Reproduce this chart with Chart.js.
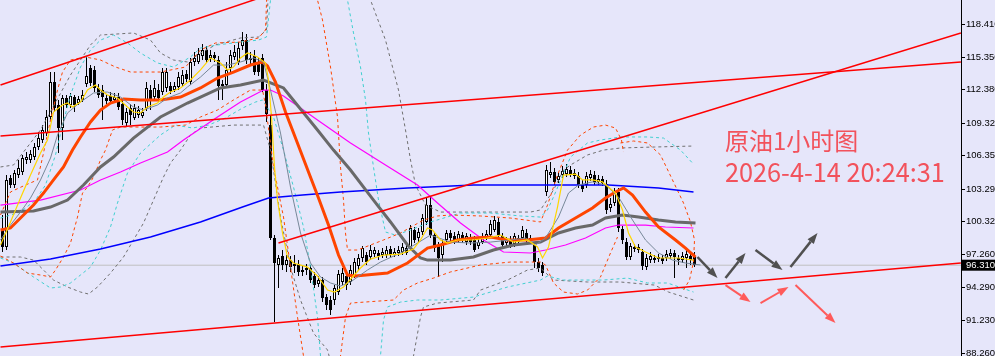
<!DOCTYPE html>
<html><head><meta charset="utf-8">
<script src="https://cdn.jsdelivr.net/npm/chart.js@4.4.1/dist/chart.umd.min.js"></script>
<style>html,body{margin:0;padding:0;background:#E6E6FA;overflow:hidden}canvas{display:block}</style>
</head><body>
<canvas id="c" width="995" height="356"></canvas>
<script>
// ---------- DATA ----------
const titleText = '原油1小时图';
const timeText = '2026-4-14 20:24:31';
const lastPrice = 96.31;
const yTicks = [88.26, 91.23, 94.29, 97.26, 100.32, 103.29, 106.35, 109.32, 112.38, 115.35, 118.41];

const opens = [99.53,97.98,104.30,103.66,104.57,104.85,105.95,105.95,106.22,107.14,107.78,108.43,109.89,113.10,110.99,108.88,111.63,110.99,111.72,111.18,111.45,112.91,114.38,114.20,112.55,112.36,111.63,111.81,111.45,111.72,111.08,109.34,110.72,109.80,110.07,109.98,110.72,112.36,111.72,112.36,112.18,112.55,112.73,112.36,112.64,112.91,113.83,113.10,114.93,114.93,115.48,116.03,115.30,115.57,115.11,112.73,112.82,114.38,115.39,114.93,116.39,116.94,115.11,115.48,114.74,115.30,112.36,109.15,98.80,96.32,97.15,96.32,96.78,96.23,96.41,95.69,95.87,96.05,95.32,94.58,94.95,93.39,93.12,93.12,93.85,94.77,95.32,94.77,95.41,96.23,96.97,97.24,97.06,97.33,97.43,97.24,97.24,97.79,97.24,97.43,97.52,97.89,97.98,99.53,98.80,99.35,100.27,101.82,99.07,98.07,97.24,98.62,99.26,98.98,98.62,99.07,98.43,98.89,98.62,98.07,98.43,98.89,99.07,99.53,100.27,98.98,98.34,98.62,98.25,98.80,98.80,99.26,98.62,98.16,96.60,96.32,103.02,104.57,104.85,104.12,104.57,104.66,105.03,104.76,104.48,103.66,103.66,104.30,104.57,103.94,104.21,103.75,101.55,102.01,103.02,99.63,98.43,97.06,97.79,97.98,97.52,96.14,96.78,96.97,96.87,96.97,96.97,97.15,97.43,96.78,96.78,96.97,97.15,97.06];
const highs = [100.91,104.57,104.57,105.03,105.95,106.40,106.68,106.86,107.51,108.52,109.15,110.53,114.02,114.02,111.45,111.90,111.90,112.09,111.90,111.81,112.36,115.39,114.65,114.56,112.91,112.82,111.90,112.18,112.09,112.09,111.45,110.72,111.08,111.08,110.90,110.72,113.10,112.82,113.28,112.91,114.38,114.38,113.10,113.10,114.02,114.20,114.20,115.30,115.85,116.21,116.57,116.39,116.03,115.85,115.48,113.28,114.93,116.03,116.48,116.76,117.68,117.49,115.85,116.03,115.30,115.66,112.91,110.07,99.07,97.24,97.70,97.24,97.15,97.24,96.78,96.23,96.41,96.32,95.69,95.32,95.23,93.67,93.48,94.49,95.87,96.05,95.69,96.32,96.97,97.33,98.07,97.52,98.16,97.98,97.70,97.89,98.07,98.07,97.89,98.07,98.34,98.25,99.99,99.81,99.72,101.00,102.47,102.65,99.35,98.43,98.62,99.53,99.53,99.35,99.44,99.35,99.26,99.17,98.98,98.71,99.26,99.53,100.45,100.82,100.63,99.26,98.89,98.98,99.26,99.07,99.90,99.63,99.07,98.43,96.97,96.60,105.49,105.76,105.22,104.85,105.40,105.58,105.40,105.12,104.85,104.12,104.85,105.03,104.94,104.57,104.48,104.12,102.47,103.39,103.39,99.90,98.80,98.34,98.25,98.25,97.79,97.33,97.52,97.24,97.33,97.24,97.70,97.79,97.70,97.24,97.52,97.70,97.52,97.52];
const lows = [97.52,97.70,103.39,103.39,104.30,104.57,105.58,105.67,105.95,106.86,107.51,108.15,109.61,110.35,106.59,107.78,110.72,110.72,110.35,110.99,111.27,112.64,112.73,112.18,111.63,109.61,111.08,111.08,111.18,110.53,109.15,108.97,109.15,109.61,109.80,109.80,110.44,110.53,111.45,111.27,111.90,112.18,112.00,112.18,112.36,112.73,113.10,112.82,114.56,114.74,115.11,114.84,114.93,114.93,111.45,111.45,112.55,114.02,115.11,114.65,116.03,114.74,114.56,113.74,113.65,112.18,109.43,98.62,91.11,94.22,95.87,95.69,95.69,95.60,95.32,95.32,95.41,94.68,94.22,94.31,92.94,92.20,91.74,92.66,93.58,94.49,94.03,94.49,95.14,95.87,96.60,96.32,96.78,97.06,96.78,96.97,96.97,96.97,97.06,97.15,97.24,97.24,97.70,98.34,98.43,99.07,99.99,98.80,97.52,95.23,96.60,98.25,98.53,98.25,98.34,98.34,98.16,98.16,97.52,97.79,98.25,98.62,98.80,99.35,98.80,97.89,98.07,97.89,97.98,98.16,98.62,98.34,98.25,96.05,95.69,95.32,102.65,104.30,103.66,103.85,104.30,104.39,104.39,104.21,103.39,103.02,103.39,104.03,103.66,103.66,103.57,101.00,101.18,101.73,99.35,98.25,96.78,96.78,97.52,97.43,95.87,95.87,96.51,96.51,96.60,96.41,96.69,96.87,95.14,96.32,96.51,96.05,96.32,96.14];
const closes = [97.98,104.12,103.66,104.76,105.22,106.13,106.22,106.49,107.14,107.97,108.70,109.89,113.10,110.72,108.88,111.63,110.99,111.81,110.99,111.54,111.90,113.65,113.01,112.55,111.90,111.72,111.36,111.36,111.72,110.81,109.61,110.35,110.07,110.72,110.53,110.35,112.55,111.45,112.55,111.63,114.02,114.02,112.27,112.73,113.56,113.74,113.38,114.93,115.30,115.66,116.03,115.11,115.57,115.30,112.73,112.91,114.20,115.57,115.85,116.21,116.94,115.11,115.30,114.02,114.02,112.36,110.16,98.80,96.51,96.97,96.32,96.78,96.14,96.41,95.69,95.87,96.05,94.95,94.49,94.95,93.30,92.66,92.20,94.22,95.50,95.60,94.49,95.87,96.60,96.97,97.89,96.60,97.70,97.70,97.15,97.52,97.70,97.24,97.52,97.70,97.98,97.43,99.72,98.62,99.35,100.63,101.82,99.07,97.89,96.97,98.34,99.26,98.80,98.62,99.17,98.62,98.98,98.43,97.70,98.43,98.98,99.17,100.08,100.45,99.07,98.16,98.62,98.16,98.98,98.43,99.53,98.62,98.80,96.60,96.05,95.60,105.03,104.85,103.94,104.48,104.94,105.12,104.66,104.48,103.66,103.29,104.48,104.66,103.94,104.21,103.85,101.37,101.92,103.02,99.72,98.62,97.06,98.07,97.98,97.70,96.23,96.97,97.15,96.78,97.06,96.69,97.33,97.43,97.06,96.97,97.15,97.33,96.78,96.32];

// indicator lines: [bar index, price]
const maYellow = [[-0.5,98.16],[2,100.27],[4.5,102.47],[7,104.57],[9.5,106.59],[11.25,107.78],[12.75,110.35],[15,110.99],[16.25,111.17],[17.5,110.80],[19.5,111.26],[21.25,112.36],[23.25,112.82],[24.5,112.36],[26.25,111.90],[28.75,111.63],[31.25,110.80],[32.75,110.35],[34.5,110.26],[36.25,110.80],[38.75,111.17],[40.25,111.72],[42,112.18],[44.5,112.55],[47,113.28],[49.5,114.20],[52,115.30],[54.5,114.84],[56.25,114.20],[57.75,114.47],[59.5,115.30],[61.25,115.75],[63.75,115.39],[65.75,114.84],[66.5,113.28],[67.25,109.89],[68,105.31],[68.75,102.28],[70,99.26],[71.25,97.06],[72.75,96.51],[76.25,96.14],[78.75,95.32],[81.25,94.03],[83,93.85],[85.25,94.31],[87.5,95.23],[89.5,96.05],[92,96.87],[95.25,97.24],[99.5,97.33],[102.75,97.79],[104.5,98.62],[106.25,99.72],[107.5,99.53],[109.5,98.62],[111.25,98.34],[113.75,98.62],[117.75,98.62],[121.25,98.80],[124.5,99.07],[127.75,98.43],[131.25,98.62],[133.75,97.98],[135,96.97],[136.5,97.98],[138.75,101.64],[140.25,104.57],[143.25,104.66],[145,104.12],[147.5,104.12],[150,103.94],[151.5,103.47],[153.25,102.92],[155,101.37],[156.5,99.26],[158.25,97.98],[160.75,97.52],[164,96.97],[166.5,96.97],[169,96.97],[172.75,96.78]];
const maSlate = [[-0.5,98.62],[2,99.99],[4.5,101.18],[7,102.47],[9.5,104.12],[12,106.13],[13.75,108.24],[16.25,110.26],[19.5,111.26],[22.75,112.09],[26.25,112.18],[29.5,111.72],[32.75,110.80],[35.25,110.53],[38.75,110.99],[41.25,111.63],[44.5,112.09],[46.25,112.64],[49.5,113.55],[52.75,114.65],[56.25,114.65],[59.5,114.93],[62.75,115.30],[65.25,114.93],[67,112.36],[69.5,108.42],[72,103.47],[74.5,99.26],[77,96.51],[79.5,95.23],[82,94.68],[84.5,94.40],[87,94.77],[91.25,95.87],[94.5,96.60],[99.5,97.43],[103.75,98.34],[107,99.07],[112,98.43],[117,98.34],[122,98.43],[127,98.62],[130.75,98.80],[133.25,98.16],[135.75,98.80],[139,100.72],[141.5,102.92],[144,103.66],[147.5,103.94],[150.75,103.66],[154,102.56],[157.5,100.45],[160.75,98.62],[164,97.43],[167.5,96.78],[170.75,96.51],[174.5,96.33]];
const maOrange = [[-0.5,99.53],[2,99.72],[4.5,100.63],[7.75,101.82],[10.25,102.92],[12.75,104.12],[15.25,105.31],[17.5,106.86],[19.5,108.06],[22,109.43],[24.5,110.53],[27,111.17],[30.25,111.54],[34.5,111.45],[39.5,111.45],[44.5,111.72],[49.5,112.55],[53.75,113.46],[57.75,114.01],[62,114.65],[65,114.93],[66.25,114.56],[68.25,113.10],[70.75,110.35],[73.25,107.96],[76.5,104.85],[79,102.47],[81.5,99.99],[84,97.24],[86.25,95.41],[88.25,95.32],[96.25,95.59],[101.25,96.51],[106.25,97.88],[109.5,98.16],[113.75,98.62],[117.75,98.80],[122,98.89],[126.25,98.62],[131.25,98.62],[135.75,98.80],[139,99.72],[143.25,100.63],[147.5,101.55],[150.75,102.47],[153.25,103.02],[155.25,103.39],[157.5,102.74],[160.75,101.18],[164,99.81],[168.25,98.62],[170.75,97.88],[173.25,97.06]];
const maGray = [[-0.5,101.18],[7.75,101.27],[12,101.64],[16.25,102.28],[20.25,103.66],[24.5,105.31],[27.75,106.22],[32.75,107.96],[39.5,109.89],[46.25,111.17],[49.5,111.72],[54.5,112.55],[59.5,112.82],[65.25,113.28],[70.25,112.55],[78.75,108.70],[82.75,106.86],[87,105.03],[92.75,102.28],[97,100.27],[101.25,98.16],[104.5,96.97],[106.25,96.78],[112,96.78],[117.75,97.06],[122.75,97.70],[127.75,98.16],[134.5,98.43],[139,99.26],[143.25,99.72],[147.5,99.99],[150.75,100.63],[155,100.91],[159,100.72],[164,100.45],[168.25,100.27],[173.25,100.17]];
const maMagenta = [[-0.5,101.82],[9.5,102.28],[19.5,103.20],[24.5,104.12],[29.5,104.85],[34.5,105.67],[41.25,106.68],[45.25,107.78],[53.75,109.89],[59.5,111.26],[65.25,112.36],[67,112.36],[70.25,111.81],[78.75,109.61],[87,107.51],[95.75,105.49],[103.75,103.66],[108.75,102.01],[114.5,100.17],[120.25,98.62],[125.25,97.52],[132,97.43],[135.75,97.70],[140.75,98.16],[145.75,98.80],[150.75,99.72],[154,99.99],[160.75,99.99],[165.75,99.81],[172.75,99.72]];
const maBlue = [[-0.5,96.23],[12,96.87],[24.5,97.79],[37,98.89],[49.5,100.27],[60,101.64],[66.5,102.47],[75,102.74],[84.5,103.02],[101.25,103.38],[117.75,103.66],[134.5,103.66],[151.5,103.66],[164,103.38],[172.75,103.02]];

const bandOrangeUp = [[-0.5,100.91],[2,103.02],[5.75,103.66],[8.75,104.12],[10.25,106.59],[12,109.61],[13.75,112.36],[15,114.01],[17,115.11],[20.75,115.39],[24.5,115.11],[28.25,114.47],[32,114.01],[39.5,114.01],[45.75,114.47],[49.5,116.03],[53.25,116.67],[59.5,116.76],[64,117.13],[65.75,117.86],[66.5,125.19],[67.5,148.10],[75.75,148.10],[77.5,126.11],[78.75,120.61],[80,118.78],[82,114.47],[83.75,109.89],[84.5,105.31],[85.25,102.28],[85.75,99.26],[86.25,97.70],[88.75,97.70],[95.25,98.62],[99.5,99.26],[105.25,100.45],[108.75,100.82],[112,100.91],[119.5,100.82],[127,100.63],[134.5,100.27],[136.25,101.82],[138.75,104.57],[141.25,106.86],[144.5,108.24],[147.75,108.97],[150.75,109.15],[153.25,108.88],[154.75,107.78],[155.25,106.68]];
const bandOrangeArc = [[154.5,107.51],[157.75,107.69],[161.25,107.51],[164.5,106.41],[167.75,103.93],[170.25,102.01],[172,100.27],[173,98.62],[172.75,96.60],[171.75,94.95],[170.25,94.03]];
const bandOrangeLow = [[-0.5,97.15],[2.75,96.51],[6.25,95.59],[9.5,95.41],[12,95.23],[13.25,95.87],[15.25,97.06],[17,98.34],[18.75,100.72],[20,102.92],[21.25,103.47],[22.75,104.39],[24.5,105.95],[25.75,106.86],[27.5,108.70],[29.5,108.97],[39.5,108.97],[45.75,109.15],[49.5,109.89],[53.75,110.53],[57.75,111.45],[62,112.36],[65,112.36],[65.75,110.99],[67.75,105.31],[70.25,100.72],[72,96.14],[73.75,91.56],[75.25,87.99],[77,82.12],[83.5,82.12],[84.5,87.99],[85.75,91.56],[87,92.84],[97.75,93.12],[100.25,94.03],[103.75,94.68],[107.75,95.13],[112,95.69],[119.5,96.33],[127,96.60],[134.5,96.60],[135.75,96.33],[137.75,94.68],[140.25,93.85],[143.75,93.67],[146.25,94.03],[149.5,95.23],[152,97.43],[153.75,98.89]];
const bandCyanUp = [[-0.5,100.63],[4.5,101.18],[8.25,102.28],[10.75,103.66],[13.25,106.41],[15,109.15],[17,111.90],[19.5,114.47],[22,116.03],[24.5,116.94],[27.75,117.40],[31.25,116.67],[34.5,115.75],[38.75,114.84],[42.75,114.47],[47,115.39],[49.5,116.21],[53.75,116.49],[59.5,116.76],[64,116.94],[66,117.22],[67,120.61],[67.75,148.10],[84.5,148.10],[86.25,120.61],[87.75,117.59],[89.5,114.47],[90.75,111.45],[91.5,108.42],[92.75,105.31],[94,102.28],[95.75,99.35],[98.25,99.07],[102,99.53],[107,100.27],[114.5,101.09],[122,101.09],[129.5,100.82],[134.5,100.72],[136.25,101.37],[137.75,102.56],[142,106.22],[146.25,107.51],[149.5,107.78],[154.5,108.06],[161.25,108.06],[165.25,107.96],[169.5,106.86],[172.5,105.67]];
const bandCyanLow = [[-0.5,96.97],[2.75,96.51],[7.75,95.23],[12,94.22],[14.5,94.31],[17,94.68],[19.5,95.41],[22,96.14],[24.5,97.70],[27,99.81],[28.75,102.01],[31.25,104.76],[34.5,106.59],[39.5,108.24],[43.25,109.15],[47.5,108.88],[51.5,109.15],[55.75,109.80],[60,110.71],[63.25,111.26],[65,111.45],[67.75,109.89],[70.25,106.86],[72.75,103.47],[75.25,99.81],[77,96.14],[78.75,91.56],[79.5,87.99],[80.75,82.12],[94,82.12],[94.5,87.99],[95.25,91.29],[96.25,92.48],[99.5,92.93],[103.75,93.12],[109.5,93.12],[117.75,93.39],[126.25,94.31],[134.5,94.95],[136.25,95.32],[140.25,94.95],[150.25,94.95],[156.25,95.13],[161.25,94.68],[166.25,94.68],[172.75,93.85]];
const bandGrayUp = [[-0.5,105.31],[2.75,105.49],[9.5,108.70],[17,113.74],[22,116.49],[24.5,117.40],[32.75,117.59],[37,116.94],[39.5,115.75],[42.75,115.11],[46.25,114.93],[49.5,115.75],[53.25,116.49],[59.5,117.13],[64,117.22],[66,117.86],[67,125.19],[68.25,148.10],[90,148.10],[91.5,123.36],[92,120.61],[95.75,116.94],[99,112.36],[100.75,108.70],[102,105.95],[103.25,103.66],[105.75,101.82],[109.5,101.18],[117,101.18],[124.5,101.18],[132,101.18],[134.5,101.37],[137.75,103.20],[140.25,105.03],[142,105.49],[146.25,106.41],[150.25,106.86],[154.5,107.05],[163,107.14],[172.75,107.23]];
const bandGrayLow = [[-0.5,97.06],[4.5,97.06],[7.75,96.78],[10.25,95.87],[12.75,94.95],[16.25,94.31],[19.5,93.85],[21.5,93.67],[23.75,94.31],[27,95.59],[30.25,97.06],[32.75,98.62],[35.25,100.17],[37.75,102.28],[40.25,104.39],[42,105.67],[44.5,106.86],[47,108.24],[49.5,108.88],[57.75,109.15],[65.25,109.15],[67,106.86],[69.5,100.72],[72,96.14],[74.5,93.12],[77.75,90.09],[81.25,88.54],[83.25,85.79],[84.5,81.20],[100.75,81.20],[102.75,87.99],[104.5,91.56],[105.25,92.48],[108.75,92.84],[117.75,93.12],[119.5,94.03],[126.25,94.95],[131.25,95.87],[134.5,96.05],[137.75,94.95],[146.25,94.77],[154.5,94.77],[163,94.49],[166.5,93.85],[172.75,93.12]];

// trend lines [x1, p1, x2, p2]
const trendLines = [[-0.5,112.82,67,121.13],[-0.5,108.15,239.6,114.93],[69,98.34,239.6,117.59],[-0.5,88.81,239.6,96.51]];
// forecast arrows [x1, p1, x2, p2]
const grayArrows = [[173.75,97.06,178.75,95.13],[180.75,95.13,185.75,97.43],[188.25,97.70,195,95.87],[197,96.14,203.75,99.26]];
const redArrows = [[180.75,94.49,187,92.93],[189.5,92.84,196.5,94.31],[198.25,94.49,208.25,91.01]];
// annotation anchor [bar index, price]
const textAnchor1 = [180.6, 106.9];
const textAnchor2 = [180.6, 103.95];

// ---------- CHART ----------
const BG = '#E6E6FA';
const toXY = a => a.map(p => ({x: p[0], y: p[1]}));
function lineDs(data, color, width, dash) {
  return {type: 'line', data: toXY(data), borderColor: color, borderWidth: width,
    borderDash: dash || [], pointRadius: 0, pointHoverRadius: 0, fill: false, tension: 0, order: 0};
}
const datasets = [];
trendLines.forEach(t => datasets.push(lineDs([[t[0], t[1]], [t[2], t[3]]], '#FF0000', 1.5)));
datasets.push(lineDs(maYellow, '#FFD700', 1.2));
datasets.push(lineDs(maSlate, '#778899', 1));
datasets.push(lineDs(maOrange, '#FF4500', 3));
datasets.push(lineDs(maGray, '#696969', 3));
datasets.push(lineDs(maMagenta, '#FF00FF', 1.2));
datasets.push(lineDs(maBlue, '#0000FF', 1.5));
datasets.push(lineDs(bandOrangeUp, '#FF4500', 1, [3, 3]));
datasets.push(lineDs(bandOrangeArc, '#FF4500', 1, [3, 3]));
datasets.push(lineDs(bandOrangeLow, '#FF4500', 1, [3, 3]));
datasets.push(lineDs(bandCyanUp, '#40D0D0', 1, [3, 3]));
datasets.push(lineDs(bandCyanLow, '#40D0D0', 1, [3, 3]));
datasets.push(lineDs(bandGrayUp, '#707070', 1, [3, 3]));
datasets.push(lineDs(bandGrayLow, '#707070', 1, [3, 3]));
datasets.push(Object.assign(lineDs([[-0.625, lastPrice], [239.625, lastPrice]], '#C0C0C0', 1), {order: 3}));
datasets.push({type: 'bar', data: opens.map((o, i) => ({x: i, y: [o, closes[i]]})),
  backgroundColor: opens.map((o, i) => closes[i] >= o ? '#FFFFFF' : '#000000'),
  borderColor: '#000000', borderWidth: 1, borderSkipped: false, barThickness: 3,
  grouped: false, order: 1, inflateAmount: 0});
datasets.push({type: 'bar', data: opens.map((o, i) => ({x: i, y: [lows[i], highs[i]]})),
  backgroundColor: '#000000', borderWidth: 0, barThickness: 1, grouped: false, order: 2, inflateAmount: 0});

function drawArrow(ctx, x1, y1, x2, y2, color, w, hl, hw) {
  const a = Math.atan2(y2 - y1, x2 - x1);
  const bx = x2 - hl * Math.cos(a), by = y2 - hl * Math.sin(a);
  ctx.strokeStyle = color; ctx.lineWidth = w; ctx.lineCap = 'butt';
  ctx.beginPath(); ctx.moveTo(x1, y1); ctx.lineTo(bx, by); ctx.stroke();
  ctx.fillStyle = color; ctx.beginPath();
  ctx.moveTo(x2, y2);
  ctx.lineTo(bx + hw / 2 * Math.sin(a), by - hw / 2 * Math.cos(a));
  ctx.lineTo(bx - hw / 2 * Math.sin(a), by + hw / 2 * Math.cos(a));
  ctx.closePath(); ctx.fill();
}

const overlay = {
  id: 'overlay',
  beforeDraw(chart) {
    const c = chart.ctx; c.save(); c.fillStyle = BG; c.fillRect(0, 0, chart.width, chart.height); c.restore();
  },
  afterDatasetsDraw(chart) {
    const c = chart.ctx, xs = chart.scales.x, ys = chart.scales.y;
    c.save();
    grayArrows.forEach(a => drawArrow(c, xs.getPixelForValue(a[0]), ys.getPixelForValue(a[1]),
      xs.getPixelForValue(a[2]), ys.getPixelForValue(a[3]), '#505050', 2.5, 11, 8));
    redArrows.forEach(a => drawArrow(c, xs.getPixelForValue(a[0]), ys.getPixelForValue(a[1]),
      xs.getPixelForValue(a[2]), ys.getPixelForValue(a[3]), '#FF5A5A', 2, 11, 8));
    c.fillStyle = '#F2525C'; c.textBaseline = 'alphabetic'; c.textAlign = 'left';
    c.font = '24px "Noto Sans CJK SC"';
    c.fillText(titleText, xs.getPixelForValue(textAnchor1[0]), ys.getPixelForValue(textAnchor1[1]));
    c.font = '26px "Noto Sans CJK SC"';
    c.fillText(timeText, xs.getPixelForValue(textAnchor2[0]), ys.getPixelForValue(textAnchor2[1]), 220);
    c.restore();
  },
  afterDraw(chart) {
    const c = chart.ctx, ys = chart.scales.y, area = chart.chartArea;
    const yp = ys.getPixelForValue(lastPrice);
    c.save();
    c.fillStyle = '#000'; c.fillRect(area.right, yp - 5.5, chart.width - area.right, 11);
    c.fillStyle = '#FFF'; c.font = '9.5px "Liberation Sans"'; c.textBaseline = 'middle'; c.textAlign = 'left';
    c.fillText(lastPrice.toFixed(3), area.right + 5, yp + 0.5);
    c.restore();
  }
};

new Chart(document.getElementById('c'), {
  type: 'bar',
  data: {datasets},
  plugins: [overlay],
  options: {
    responsive: false, animation: false, events: [],
    layout: {padding: 0},
    plugins: {legend: {display: false}, tooltip: {enabled: false}},
    scales: {
      x: {type: 'linear', min: -0.625, max: 239.625, offset: false, display: false},
      y: {position: 'right', min: 87.99, max: 120.61, beginAtZero: false,
        afterBuildTicks: s => { s.ticks = yTicks.map(v => ({value: v})); },
        afterFit: s => { s.width = 34; s.paddingTop = 0; s.paddingBottom = 0; },
        grid: {drawOnChartArea: false, drawTicks: true, tickLength: 4, color: '#000', tickColor: '#000'},
        border: {display: true, color: '#000', width: 1},
        ticks: {color: '#000', padding: 1, autoSkip: false, maxRotation: 0,
          font: {family: 'Liberation Sans', size: 9.5}, callback: v => Number(v).toFixed(3)}
      }
    }
  }
});
</script>
</body></html>
